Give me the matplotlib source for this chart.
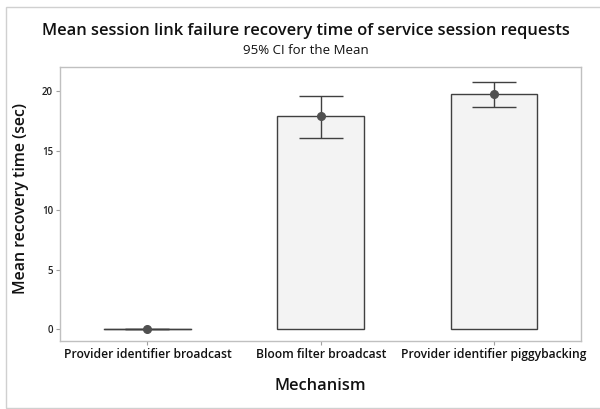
import matplotlib
matplotlib.use("Agg")
import matplotlib.pyplot as plt
from matplotlib.patches import Rectangle

categories = ["Provider identifier broadcast", "Bloom filter broadcast", "Provider identifier piggybacking"]
means = [0.0, 17.9, 19.75]
ci_low = [0.0, 16.1, 18.7]
ci_high = [0.0, 19.6, 20.75]
yticks = [0, 5, 10, 15, 20]

plt.rcParams['font.family'] = ['Open Sans', 'DejaVu Sans']

fig = plt.figure(figsize=(6.0, 4.09), dpi=100)
W, H = 600, 409
ax = fig.add_axes([60 / W, 1 - 341 / H, (581 - 60) / W, (341 - 67.3) / H])

x = list(range(len(categories)))
ax.bar(x, means, width=0.5, color="#f3f3f3", edgecolor="#404040", linewidth=1.0, zorder=2)
# zero-height bar outline
for xi, m in zip(x, means):
    if m == 0:
        ax.plot([xi - 0.25, xi + 0.25], [0, 0], color="#404040", lw=1.0, zorder=3)
lower = [m - l for m, l in zip(means, ci_low)]
upper = [h - m for m, h in zip(means, ci_high)]
ax.errorbar(x, means, yerr=[lower, upper], fmt="o", color="#505050", ecolor="#404040",
            elinewidth=1.0, capsize=16, capthick=1.0, markersize=5.5, zorder=4)

ax.set_xlim(-0.505, 2.502)
ax.set_ylim(-0.98, 22.02)
ax.set_yticks(yticks)
ax.set_yticklabels([str(t) for t in yticks], fontsize=7, color="#222222", fontweight="semibold")
ax.set_xticks(x)
ax.set_xticklabels(categories, fontsize=8.7, color="#111111", fontweight="semibold")
for s in ax.spines.values():
    s.set_color("#c0c0c0")
    s.set_linewidth(1.0)
ax.tick_params(axis="both", length=3, color="#a0a0a0", width=0.8, pad=2)

ax.set_ylabel("Mean recovery time (sec)", fontsize=11.4, color="#111111", fontweight="semibold")
ax.yaxis.set_label_coords((29 - 60) / (581 - 60), (341 - 198) / (341 - 67.3))
ax.set_xlabel("Mechanism", fontsize=11.8, labelpad=12, color="#111111", fontweight="semibold")

fig.text(0.5 * (43 + 569) / W, 1 - 31 / H, "Mean session link failure recovery time of service session requests",
         ha="center", va="center", fontsize=11.9, fontweight="semibold", color="#111111")
fig.text(0.5 * (43 + 569) / W, 1 - 51 / H, "95% CI for the Mean", ha="center", va="center",
         fontsize=9.5, color="#111111")

# outer frame
fig.add_artist(Rectangle((5.7 / W, 1 - 407.7 / H), (W + 10) / W, (407.7 - 7) / H,
                         transform=fig.transFigure, fill=False, edgecolor="#d0d0d0", lw=1.0))

fig.savefig("out.png", dpi=100)
